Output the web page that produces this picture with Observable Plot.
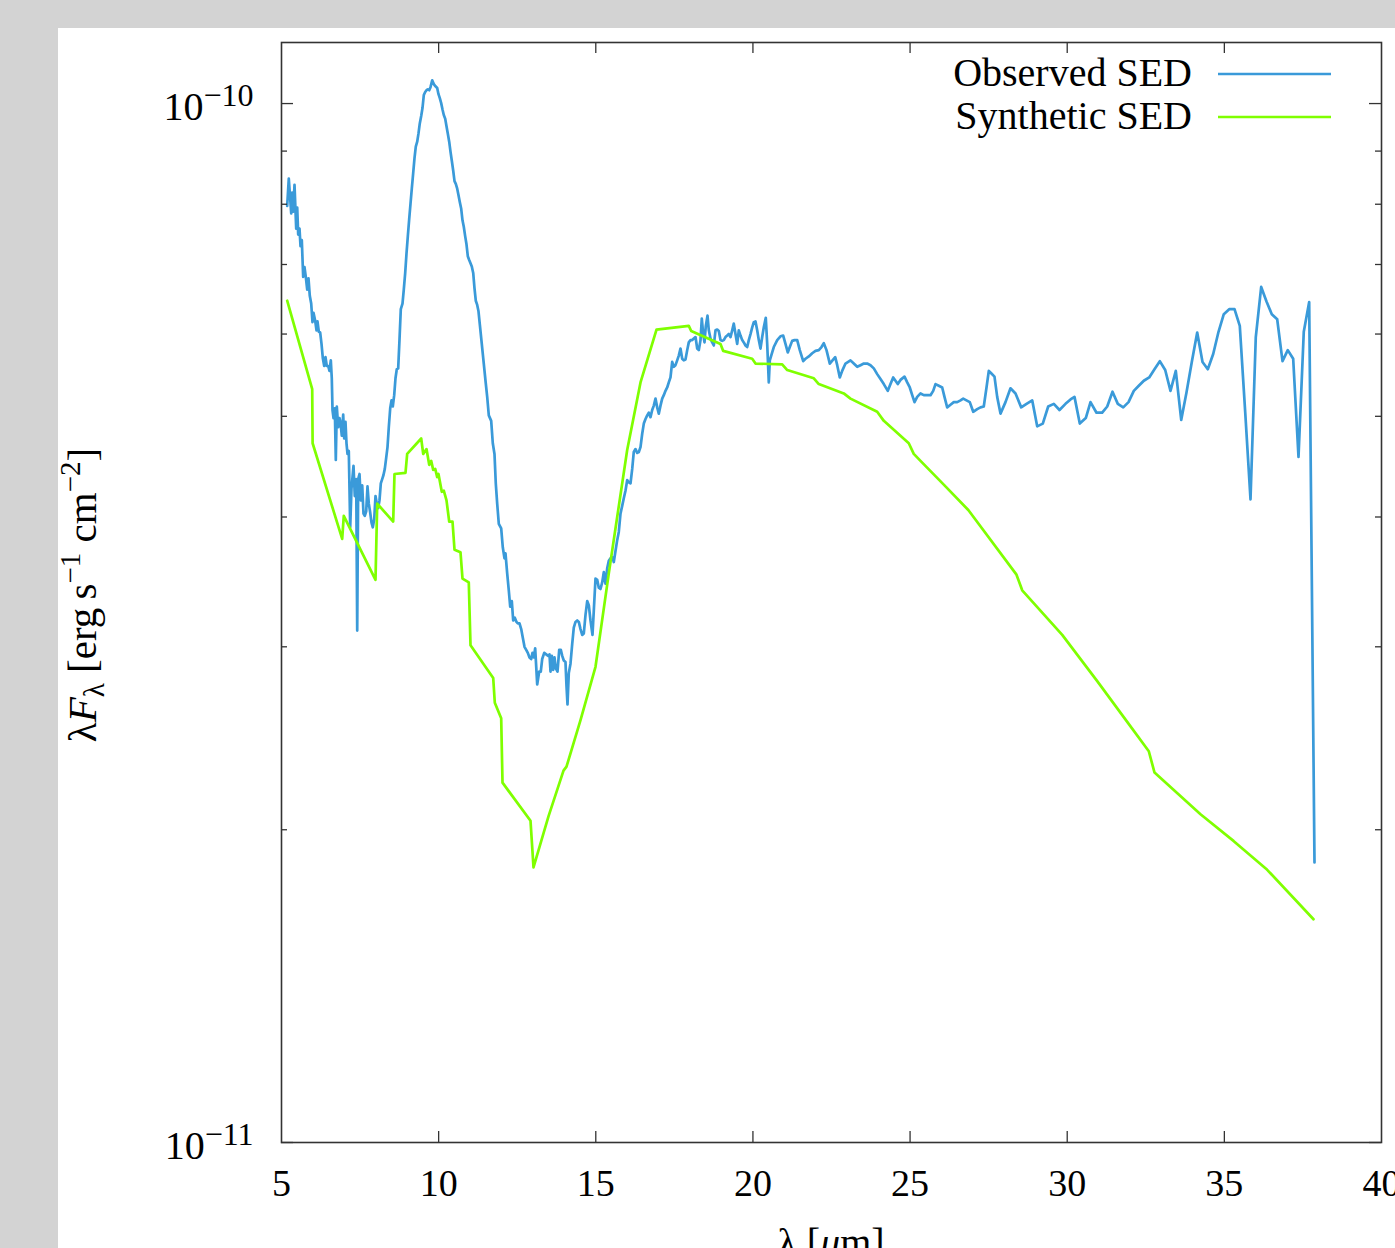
<!DOCTYPE html>
<html>
<head>
<meta charset="utf-8">
<script src="https://cdn.jsdelivr.net/npm/d3@7"></script>
<script src="https://cdn.jsdelivr.net/npm/@observablehq/plot@0.6"></script>
<style>
html,body{margin:0;padding:0;overflow:hidden;background:#d3d3d3;width:1395px;height:1248px;}
#panel{position:absolute;left:58px;top:28px;width:1337px;height:1220px;background:#fff;}
#chart{position:absolute;left:0;top:0;}
</style>
</head>
<body>
<div id="panel"></div>
<div id="chart"></div>
<script>
// ---- Data (flux in units of 1e-11 erg s^-1 cm^-2) ----
const FLUX_UNIT = 1e-11;

const obsWavelength = [
5.181,5.232,5.309,5.340,5.372,5.414,5.468,5.500,5.531,5.573,
5.605,5.646,5.690,5.732,5.773,5.818,5.859,5.900,5.945,5.986,
6.018,6.072,6.114,6.145,6.187,6.231,6.273,6.314,6.359,6.400,
6.441,6.486,6.527,6.569,6.600,6.623,6.655,6.696,6.728,6.760,
6.804,6.845,6.877,6.919,6.963,6.995,7.036,7.068,7.100,7.141,
7.186,7.227,7.291,7.332,7.377,7.409,7.441,7.482,7.523,7.568,
7.609,7.650,7.695,7.736,7.778,7.822,7.864,7.905,7.950,7.991,
8.032,8.077,8.118,8.160,8.204,8.245,8.287,8.331,8.373,8.414,
8.459,8.500,8.541,8.586,8.627,8.668,8.713,8.755,8.796,8.850,
8.891,8.936,8.977,9.019,9.063,9.105,9.146,9.190,9.232,9.273,
9.318,9.359,9.400,9.445,9.486,9.528,9.572,9.614,9.655,9.700,
9.741,9.795,9.846,9.900,9.954,9.995,10.037,10.081,10.123,10.164,
10.209,10.250,10.291,10.336,10.377,10.419,10.463,10.505,10.546,10.591,
10.632,10.673,10.718,10.759,10.800,10.845,10.886,10.928,10.972,11.014,
11.055,11.100,11.141,11.182,11.227,11.268,11.310,
11.491,11.545,11.596,11.672,11.723,11.777,11.818,11.863,11.914,11.990,
12.041,12.095,12.127,12.181,12.232,12.277,12.328,12.372,12.423,12.477,
12.519,12.573,12.627,12.678,12.732,12.786,12.837,12.891,12.945,12.986,
13.028,13.072,13.136,13.200,13.250,13.295,13.359,13.422,13.486,13.527,
13.559,13.601,13.645,13.686,13.728,13.782,13.836,13.887,13.932,13.982,
14.036,14.068,14.100,14.141,14.195,14.250,14.300,14.355,14.409,14.460,
14.514,14.568,14.619,14.673,14.727,14.778,14.832,14.895,14.937,14.991,
15.045,15.096,15.150,15.204,15.255,15.309,15.363,15.414,15.468,15.522,
15.573,15.627,15.681,15.732,15.786,15.840,15.891,15.945,15.999,16.050,
16.105,16.159,16.209,16.264,16.318,16.369,16.423,
16.477,16.528,16.582,16.636,16.687,16.741,16.795,16.846,16.900,16.954,
17.005,17.059,17.113,17.164,17.218,17.272,17.323,17.377,17.431,17.482,
17.536,17.590,17.641,17.695,17.750,17.800,17.854,17.909,17.959,18.014,
18.068,18.119,18.173,18.227,18.278,18.332,18.373,18.418,18.459,18.501,
18.555,18.596,18.650,18.705,18.755,18.809,18.863,18.914,18.968,19.022,
19.073,19.127,19.181,19.232,19.286,19.341,19.391,19.445,19.500,19.550,
19.605,19.659,19.709,19.764,19.818,19.869,19.923,19.977,20.028,20.082,
20.136,20.187,20.241,20.295,20.346,20.409,20.454,20.505,20.537,20.613,
20.664,20.773,20.877,20.963,21.036,21.109,21.173,21.249,21.323,21.409,
21.491,21.600,21.673,21.778,21.886,21.991,22.096,22.182,22.255,22.341,
22.446,22.532,22.618,22.682,22.764,22.840,22.945,23.104,23.209,23.318,
23.423,23.528,23.636,23.741,23.846,23.954,24.059,24.164,24.291,24.377,
24.463,24.536,24.609,24.695,24.823,24.909,24.991,25.068,25.141,25.227,
25.332,25.437,25.545,25.650,25.736,25.809,25.914,26.022,26.095,26.181,
26.286,26.391,26.500,26.605,26.691,26.795,26.900,27.009,27.136,27.241,
27.345,27.432,27.505,27.581,27.686,27.772,27.877,
28.036,28.195,28.355,28.536,28.705,28.886,29.045,29.223,29.395,29.573,
29.755,29.945,30.105,30.232,30.400,30.591,30.741,30.932,31.113,31.273,
31.441,31.610,31.782,31.950,32.119,32.277,32.437,32.609,32.777,32.946,
33.118,33.286,33.455,33.627,33.795,33.964,34.136,34.305,34.473,34.645,
34.814,34.982,35.154,35.323,35.491,35.663,35.832,36.000,36.172,36.341,
36.509,36.681,36.850,37.018,37.190,37.359,37.527,37.699,37.868
];

const obsFlux = [
7.97,8.47,7.84,8.21,7.87,8.35,7.58,7.94,7.48,7.58,
7.29,7.39,6.81,6.96,6.81,6.62,6.79,6.53,6.42,6.16,
6.29,6.18,6.05,6.17,6.03,6.02,5.87,5.69,5.59,5.70,
5.59,5.59,5.53,5.66,5.44,5.07,4.98,5.09,4.54,5.11,
4.88,4.98,4.93,4.79,5.02,4.76,4.94,4.71,4.60,4.63,
3.91,4.26,4.48,4.19,4.35,3.11,4.35,4.40,4.15,4.29,
4.03,4.01,4.05,4.28,4.12,4.04,3.95,3.91,3.98,4.19,
4.12,4.08,4.15,4.31,4.35,4.39,4.45,4.56,4.67,4.88,
5.09,5.18,5.11,5.24,5.44,5.55,5.56,5.93,6.34,6.42,
6.62,6.87,7.17,7.45,7.74,8.01,8.28,8.57,8.86,9.09,
9.19,9.36,9.57,9.73,9.90,10.19,10.26,10.30,10.32,10.30,
10.37,10.53,10.44,10.39,10.35,10.21,10.12,10.01,9.87,9.75,
9.67,9.51,9.36,9.19,8.99,8.81,8.62,8.42,8.37,8.28,
8.16,8.04,7.92,7.72,7.61,7.45,7.32,7.13,7.07,7.02,
6.97,6.87,6.64,6.46,6.40,6.31,6.13,
5.41,5.22,5.01,4.95,4.71,4.60,4.31,4.12,3.94,3.90,
3.74,3.65,3.69,3.53,3.40,3.28,3.32,3.18,3.20,3.17,
3.16,3.16,3.12,3.06,3.00,2.98,2.96,2.93,2.92,2.96,
2.93,2.99,2.76,2.84,2.84,2.92,2.96,2.95,2.94,2.95,
2.84,2.94,2.85,2.93,2.86,2.84,2.98,2.98,2.94,2.91,
2.90,2.75,2.64,2.83,2.89,3.02,3.13,3.17,3.18,3.17,
3.12,3.08,3.09,3.22,3.32,3.29,3.18,3.08,3.25,3.49,
3.48,3.42,3.41,3.46,3.54,3.45,3.57,3.63,3.65,3.66,
3.62,3.71,3.80,3.87,4.03,4.10,4.17,4.24,4.34,4.32,
4.31,4.45,4.62,4.65,4.61,4.62,4.67,
4.81,4.92,4.97,5.01,5.04,4.99,5.07,5.12,5.20,5.10,
5.03,5.12,5.20,5.24,5.29,5.33,5.39,5.45,5.64,5.58,
5.60,5.66,5.72,5.81,5.68,5.66,5.67,5.79,5.89,5.92,
5.92,5.94,5.96,5.81,5.79,5.92,6.21,6.00,5.89,6.11,
6.25,6.05,5.94,5.89,5.85,6.05,6.06,6.04,5.92,5.91,
5.92,5.96,5.98,6.00,5.96,6.05,6.14,6.00,5.87,6.05,
5.98,5.92,5.89,5.85,5.83,5.92,6.00,6.09,6.16,6.17,
6.05,5.92,5.81,5.96,6.09,6.22,5.87,5.39,5.66,5.76,
5.83,5.92,5.97,5.98,5.87,5.76,5.83,5.91,5.92,5.92,
5.79,5.65,5.68,5.71,5.75,5.78,5.79,5.83,5.88,5.79,
5.62,5.66,5.70,5.60,5.45,5.53,5.62,5.66,5.62,5.58,
5.60,5.62,5.62,5.60,5.56,5.49,5.43,5.37,5.29,5.37,
5.45,5.41,5.37,5.42,5.46,5.39,5.33,5.24,5.16,5.22,
5.26,5.24,5.24,5.24,5.29,5.37,5.35,5.33,5.22,5.10,
5.13,5.16,5.16,5.18,5.20,5.18,5.16,5.05,5.08,5.10,
5.11,5.33,5.53,5.50,5.46,5.22,5.03,
5.16,5.32,5.26,5.10,5.14,5.18,4.89,4.92,5.11,5.14,
5.07,5.14,5.19,5.22,4.92,4.98,5.16,5.04,5.04,5.11,
5.28,5.14,5.10,5.16,5.29,5.35,5.41,5.45,5.55,5.65,
5.54,5.29,5.53,4.96,5.27,5.64,6.02,5.64,5.55,5.74,
6.03,6.27,6.34,6.34,6.11,5.05,4.16,5.96,6.66,6.45,
6.27,6.20,5.65,5.79,5.68,4.57,6.03,6.44,1.86
];

const synWavelength = [
5.181,5.977,5.990,6.931,6.982,7.991,8.045,8.554,8.595,8.945,
8.999,9.445,9.509,9.614,9.700,9.763,9.827,9.891,9.954,9.995,
10.100,10.164,10.250,10.336,10.441,10.505,10.695,10.759,10.959,11.014,
11.736,11.787,11.990,12.032,12.923,13.018,13.495,13.973,14.068,14.514,
14.991,15.414,15.681,15.999,16.423,16.932,17.959,18.036,18.968,19.054,
19.977,20.082,20.931,21.091,21.937,22.096,22.891,23.104,23.954,24.164,
24.959,25.118,25.332,26.095,26.859,28.386,28.568,29.841,30.955,31.909,
32.596,32.778,34.241,35.300,36.363,37.836
];

const synFlux = [
6.46,5.31,4.71,3.81,4.01,3.48,4.12,3.96,4.40,4.41,
4.60,4.76,4.60,4.65,4.49,4.53,4.44,4.45,4.37,4.40,
4.23,4.24,4.15,3.96,3.96,3.72,3.70,3.49,3.46,3.01,
2.80,2.65,2.56,2.22,2.04,1.84,2.06,2.28,2.30,2.55,
2.87,3.53,4.00,4.64,5.39,6.06,6.11,6.04,5.87,5.78,
5.68,5.62,5.61,5.54,5.44,5.37,5.26,5.20,5.05,4.95,
4.71,4.60,4.53,4.29,4.06,3.52,3.40,3.08,2.78,2.54,
2.38,2.27,2.07,1.95,1.83,1.64
];

const xTicks = [5, 10, 15, 20, 25, 30, 35, 40];
const xTicksInner = [10, 15, 20, 25, 30, 35];
const yMajor = [1e-11, 1e-10];
const yMinor = [2e-11, 3e-11, 4e-11, 5e-11, 6e-11, 7e-11, 8e-11, 9e-11];
const yDomain = [1e-11, 1.1449e-10];
const seriesNames = ["Observed SED", "Synthetic SED"];
const seriesColors = ["#3a9ad9", "#7fff00"];

// ---- Build ----
const obs = obsWavelength.map((w, i) => ({w, f: obsFlux[i] * FLUX_UNIT}));
const syn = synWavelength.map((w, i) => ({w, f: synFlux[i] * FLUX_UNIT}));

const W = 1395, H = 1248, mL = 281, mR = 14, mT = 42, mB = 106;
const innerW = W - mL - mR, innerH = H - mT - mB;
const tickStroke = "#333";
const powerLabel = d => "10|\u2212" + Math.abs(Math.round(Math.log10(d)));

const chart = Plot.plot({
  width: W, height: H,
  marginLeft: mL, marginRight: mR, marginTop: mT, marginBottom: mB,
  style: {background: "transparent", fontFamily: "'Liberation Serif', serif", fontSize: "38px", color: "#000"},
  x: {domain: [5, 40], axis: null},
  y: {type: "log", domain: yDomain, axis: null},
  marks: [
    Plot.line(obs, {x: "w", y: "f", stroke: seriesColors[0], strokeWidth: 2.7, strokeLinejoin: "round"}),
    Plot.line(syn, {x: "w", y: "f", stroke: seriesColors[1], strokeWidth: 2.7, strokeLinejoin: "round"}),
    Plot.ruleX(xTicksInner, {stroke: tickStroke, strokeWidth: 1.3, insetTop: innerH - 11}),
    Plot.ruleX(xTicksInner, {stroke: tickStroke, strokeWidth: 1.3, insetBottom: innerH - 11}),
    Plot.ruleY(yMajor, {stroke: tickStroke, strokeWidth: 1.3, insetRight: innerW - 12}),
    Plot.ruleY(yMajor, {stroke: tickStroke, strokeWidth: 1.3, insetLeft: innerW - 12}),
    Plot.ruleY(yMinor, {stroke: tickStroke, strokeWidth: 1.3, insetRight: innerW - 6}),
    Plot.ruleY(yMinor, {stroke: tickStroke, strokeWidth: 1.3, insetLeft: innerW - 6}),
    Plot.frame({stroke: tickStroke, strokeWidth: 1.6}),
    Plot.axisX({ticks: xTicks, tickSize: 0, tickPadding: 27, tickFormat: d => String(d), label: null}),
    Plot.text(yMajor, {y: d => d, frameAnchor: "left", dx: -28, dy: 4, textAnchor: "end", lineAnchor: "middle",
      text: powerLabel, fontSize: 40, fill: "#000"})
  ]
});

document.getElementById("chart").appendChild(chart);
const svg = d3.select(chart);

// superscript exponents on y tick labels
svg.selectAll("text").each(function () {
  const t = d3.select(this);
  const s = t.text();
  if (s.indexOf("|") < 0) return;
  const parts = s.split("|");
  t.text(null);
  t.append("tspan").text(parts[0]);
  t.append("tspan").attr("dy", -14).attr("font-size", 32).text(parts[1]);
});

// y-axis title
const yt = svg.append("text")
  .attr("transform", "translate(96,595) rotate(-90)")
  .attr("text-anchor", "middle").attr("font-size", 41).attr("fill", "#000");
yt.append("tspan").text("\u03bb");
yt.append("tspan").attr("font-style", "italic").text("F");
yt.append("tspan").attr("font-size", 29).attr("dy", 8).text("\u03bb");
yt.append("tspan").attr("dy", -8).text(" [erg\u2009s");
yt.append("tspan").attr("font-size", 29).attr("dy", -16).text("\u22121");
yt.append("tspan").attr("dy", 16).text(" cm");
yt.append("tspan").attr("font-size", 29).attr("dy", -16).text("\u22122");
yt.append("tspan").attr("dy", 16).text("]");

// x-axis title
const xt = svg.append("text")
  .attr("x", mL + innerW / 2).attr("y", 1256)
  .attr("text-anchor", "middle").attr("font-size", 40).attr("fill", "#000");
xt.append("tspan").text("\u03bb [");
xt.append("tspan").attr("font-style", "italic").text("\u03bc");
xt.append("tspan").text("m]");

// legend
const lg = svg.append("g");
seriesNames.forEach((name, i) => {
  const yLine = 74 + i * 43;
  lg.append("text").attr("x", 1192).attr("y", yLine + 12)
    .attr("text-anchor", "end").attr("font-size", 40).attr("fill", "#000").text(name);
  lg.append("line").attr("x1", 1218).attr("x2", 1331).attr("y1", yLine).attr("y2", yLine)
    .attr("stroke", seriesColors[i]).attr("stroke-width", 2.7);
});
</script>
</body>
</html>
